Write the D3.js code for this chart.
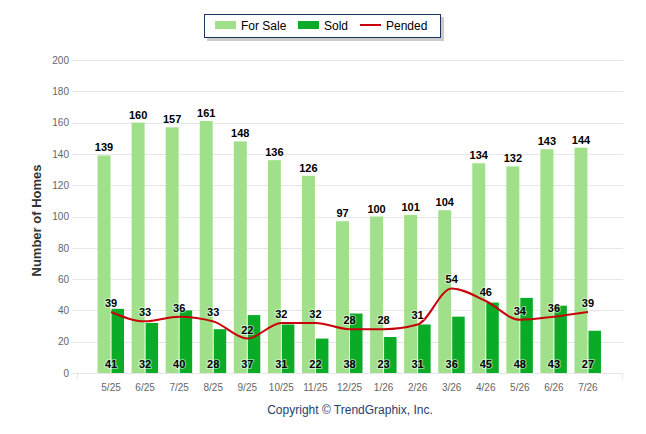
<!DOCTYPE html>
<html>
<head>
<meta charset="utf-8">
<script src="https://cdn.jsdelivr.net/npm/d3@7"></script>
<style>
  body { margin: 0; background: #fff; }
  svg { font-family: "Liberation Sans", Arial, sans-serif; }
</style>
</head>
<body>
<div id="chart"></div>
<script>
// chart values
var months = ["5/25", "6/25", "7/25", "8/25", "9/25", "10/25", "11/25", "12/25",
              "1/26", "2/26", "3/26", "4/26", "5/26", "6/26", "7/26"];
var forSale = [139, 160, 157, 161, 148, 136, 126, 97, 100, 101, 104, 134, 132, 143, 144];
var sold = [41, 32, 40, 28, 37, 31, 22, 38, 23, 31, 36, 45, 48, 43, 27];
var pended = [39, 33, 36, 33, 22, 32, 32, 28, 28, 31, 54, 46, 34, 36, 39];
var yTicks = [0, 20, 40, 60, 80, 100, 120, 140, 160, 180, 200];

var width = 646, height = 434;
var plot = {left: 72, right: 623, top: 60, bottom: 373};

var svg = d3.select("#chart").append("svg")
    .attr("width", width)
    .attr("height", height);

var x = d3.scaleBand()
    .domain(months)
    .range([94, 605]);

var y = d3.scaleLinear()
    .domain([0, 200])
    .range([plot.bottom, plot.top]);

// gridlines
svg.append("g").selectAll("line")
    .data(yTicks)
    .enter()
    .append("line")
    .attr("x1", plot.left)
    .attr("x2", plot.right)
    .attr("y1", function (d) { return Math.round(y(d)) + 0.5; })
    .attr("y2", function (d) { return Math.round(y(d)) + 0.5; })
    .style("stroke", "#e6e6e6");

// y axis labels
var yAxis = d3.axisLeft(y).tickValues(yTicks).tickSize(0).tickPadding(0);
var gy = svg.append("g")
    .attr("transform", "translate(69,0)")
    .call(yAxis);
gy.select(".domain").remove();
gy.selectAll("text")
    .style("font-size", "10px")
    .style("fill", "#666");

svg.append("text")
    .attr("transform", "translate(41," + ((plot.top + plot.bottom) / 2 + 4) + ") rotate(-90)")
    .attr("text-anchor", "middle")
    .style("font-size", "13px")
    .style("font-weight", "bold")
    .style("fill", "#333")
    .text("Number of Homes");

// bars
var cx = function (d) { return x(d) + x.bandwidth() / 2; };

svg.append("g").selectAll("rect")
    .data(forSale)
    .enter()
    .append("rect")
    .attr("x", function (d, i) { return cx(months[i]) - 13.5; })
    .attr("width", 13)
    .attr("y", function (d) { return y(d); })
    .attr("height", function (d) { return y(0) - y(d); })
    .attr("fill", "#a0e08a");

svg.append("g").selectAll("rect")
    .data(sold)
    .enter()
    .append("rect")
    .attr("x", function (d, i) { return cx(months[i]) + 0.5; })
    .attr("width", 12.5)
    .attr("y", function (d) { return y(d); })
    .attr("height", function (d) { return y(0) - y(d); })
    .attr("fill", "#0aab27");

// x axis
svg.append("line")
    .attr("x1", plot.left)
    .attr("x2", plot.right)
    .attr("y1", plot.bottom + 0.5)
    .attr("y2", plot.bottom + 0.5)
    .style("stroke", "#e6e6e6");
[77.5, 622.5].forEach(function (t) {
    svg.append("line")
        .attr("x1", t).attr("x2", t)
        .attr("y1", plot.bottom).attr("y2", plot.bottom + 6)
        .style("stroke", "#e6e6e6");
});

svg.append("g").selectAll("text")
    .data(months)
    .enter()
    .append("text")
    .attr("x", cx)
    .attr("y", 391)
    .attr("text-anchor", "middle")
    .style("font-size", "10px")
    .style("fill", "#666")
    .text(function (d) { return d; });

// pended line
var line = d3.line()
    .x(function (d, i) { return cx(months[i]); })
    .y(function (d) { return y(d); })
    .curve(d3.curveMonotoneX);

svg.append("path")
    .datum(pended)
    .attr("d", line)
    .attr("fill", "none")
    .style("stroke", "#c8000a")
    .style("stroke-width", 2);

// value labels
function labels(data, xf, yf) {
    var g = svg.append("g");
    g.selectAll("text.halo")
        .data(data)
        .enter()
        .append("text")
        .attr("x", xf)
        .attr("y", yf)
        .attr("text-anchor", "middle")
        .style("font-size", "11px")
        .style("font-weight", "bold")
        .style("fill", "#000")
        .style("stroke", "#fff")
        .style("stroke-width", 2)
        .style("stroke-opacity", 0.5)
        .style("paint-order", "stroke")
        .text(function (d) { return d; });
}

labels(forSale,
    function (d, i) { return cx(months[i]) - 7; },
    function (d) { return y(d) - 4; });
labels(sold,
    function (d, i) { return cx(months[i]); },
    function () { return 368; });
labels(pended,
    function (d, i) { return cx(months[i]); },
    function (d) { return y(d) - 5; });

// legend
var legend = svg.append("g");
legend.append("rect")
    .attr("x", 207).attr("y", 17)
    .attr("width", 237).attr("height", 24)
    .attr("fill", "#999")
    .attr("opacity", 0.5);
legend.append("rect")
    .attr("x", 204.5).attr("y", 14.5)
    .attr("width", 236).attr("height", 23)
    .attr("fill", "#fff")
    .style("stroke", "#1d3461")
    .style("stroke-width", 1);

var legendItems = [
    {name: "For Sale", color: "#a0e08a", type: "bar", x: 215},
    {name: "Sold", color: "#0aab27", type: "bar", x: 298},
    {name: "Pended", color: "#c8000a", type: "line", x: 360}
];

legendItems.forEach(function (d) {
    if (d.type === "bar") {
        legend.append("rect")
            .attr("x", d.x).attr("y", 21)
            .attr("width", 21).attr("height", 8)
            .attr("fill", d.color);
    } else {
        legend.append("line")
            .attr("x1", d.x).attr("x2", d.x + 21)
            .attr("y1", 25).attr("y2", 25)
            .style("stroke", d.color)
            .style("stroke-width", 2);
    }
    legend.append("text")
        .attr("x", d.x + 26)
        .attr("y", 30)
        .style("font-size", "12px")
        .style("fill", "#000")
        .text(d.name);
});

svg.append("text")
    .attr("x", 350)
    .attr("y", 414)
    .attr("text-anchor", "middle")
    .style("font-size", "12px")
    .style("fill", "#274070")
    .text("Copyright \u00a9 TrendGraphix, Inc.");
</script>
</body>
</html>
